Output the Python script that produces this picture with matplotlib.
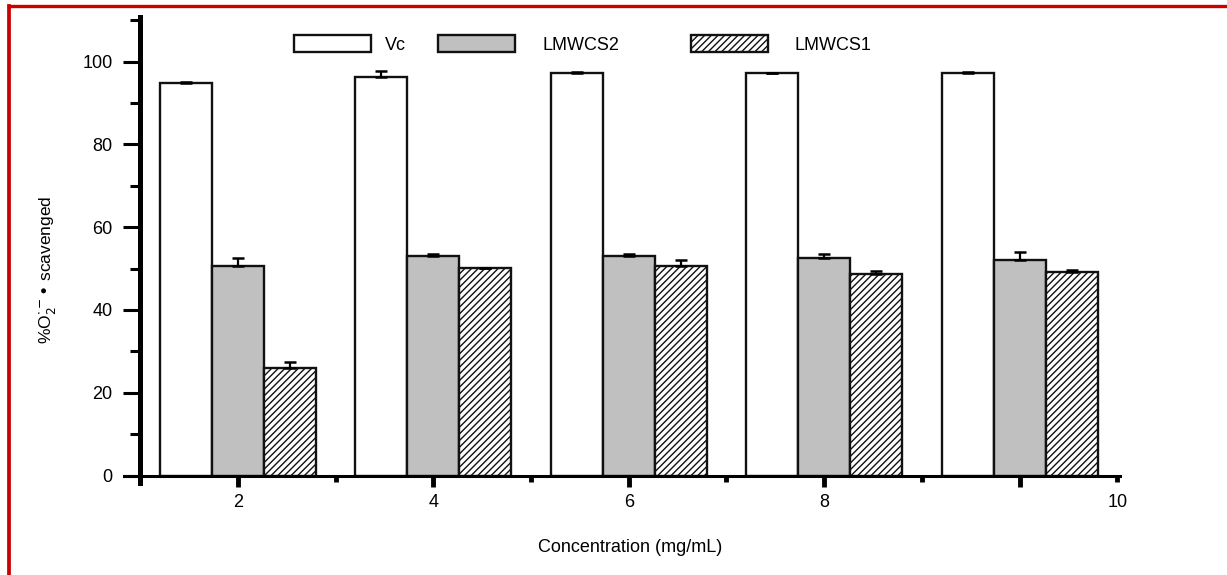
import numpy as np
import matplotlib
matplotlib.use("Agg")
import matplotlib.pyplot as plt
from matplotlib.lines import Line2D
from matplotlib.ticker import FixedLocator, FixedFormatter

plt.rcParams['font.family'] = ['Liberation Sans', 'DejaVu Sans']
plt.rcParams['hatch.linewidth'] = 1.0

# ---- data ----
concentrations = ['2', '4', '6', '8', '10']
series_names = ['Vc', 'LMWCS2', 'LMWCS1']
vc = [94.8, 96.2, 97.2, 97.2, 97.2]
vc_err = [0.3, 1.45, 0.4, 0.0, 0.4]
lmwcs2 = [50.6, 53.1, 53.1, 52.5, 52.1]
lmwcs2_err = [1.9, 0.35, 0.35, 1.0, 1.9]
lmwcs1 = [26.0, 50.2, 50.6, 48.7, 49.2]
lmwcs1_err = [1.45, 0.0, 1.45, 0.8, 0.4]
y_major = [0, 20, 40, 60, 80, 100]
y_minor = [10, 30, 50, 70, 90, 110]

W, H = 1227, 575
fig = plt.figure(figsize=(W / 100, H / 100), dpi=100)
ax = fig.add_axes([124 / W, (H - 483) / H, (1120 - 124) / W, (483 - 17) / H])

x = np.arange(len(concentrations))
bw = 0.266
styles = [
    dict(facecolor='white', hatch=None),
    dict(facecolor='#c0c0c0', hatch=None),
    dict(facecolor='white', hatch='/////'),
]
values = [vc, lmwcs2, lmwcs1]
errors = [vc_err, lmwcs2_err, lmwcs1_err]
offsets = [-bw, 0, bw]
handles = []
for vals, errs, off, st, name in zip(values, errors, offsets, styles, series_names):
    bars = ax.bar(x + off, vals, width=bw, facecolor=st['facecolor'], hatch=st['hatch'],
                  edgecolor='#111111', linewidth=1.7, label=name, zorder=2)
    handles.append(bars)
    ax.errorbar(x + off, vals, yerr=[np.zeros(len(errs)), errs], fmt='none', ecolor='black',
                elinewidth=1.6, capsize=4.5, capthick=1.8, zorder=3)

ax.set_xlim(-0.583, 4.514)
ax.set_ylim(-1.81, 110.8)

for s in ['top', 'right']:
    ax.spines[s].set_visible(False)
ax.spines['left'].set_position(('data', -0.5))
ax.spines['bottom'].set_position(('data', 0))
ax.spines['left'].set_linewidth(3.6)
ax.spines['bottom'].set_linewidth(2.2)

# y ticks
ax.yaxis.set_major_locator(FixedLocator(y_major))
ax.yaxis.set_minor_locator(FixedLocator(y_minor))
ax.yaxis.set_major_formatter(FixedFormatter([str(v) for v in y_major]))
ax.tick_params(axis='y', which='major', direction='out', length=12, width=2.2, labelsize=13, pad=8)
ax.tick_params(axis='y', which='minor', direction='out', length=7, width=2.2)

# x ticks (quirky original axis: 10 at the axis end)
ax.xaxis.set_major_locator(FixedLocator(list(x)))
ax.xaxis.set_major_formatter(FixedFormatter(concentrations[:-1] + ['']))
ax.xaxis.set_minor_locator(FixedLocator(list(x + 0.5)))
ax.xaxis.set_minor_formatter(FixedFormatter([''] * (len(x) - 1) + [concentrations[-1]]))
ax.tick_params(axis='x', which='major', direction='out', length=8, width=3.5, labelsize=13, pad=5)
ax.tick_params(axis='x', which='minor', direction='out', length=4, width=3.5, labelsize=13, pad=9)

# labels
fig.text(47 / W, 1 - 270 / H, r'%O$_2^{\cdot-}$• scavenged', rotation=90,
         ha='center', va='center', fontsize=12.5)
fig.text(630 / W, 1 - 548 / H, 'Concentration (mg/mL)', ha='center', va='center', fontsize=13)

# legend (three entries at their own positions)
fs_px = 13 * 100 / 72
leg_x = [294, 438, 691]
leg_pad = [14, 27, 26]
legends = []
for h, name, lx, pd in zip(handles, series_names, leg_x, leg_pad):
    leg = ax.legend([h], [name], loc='center left', bbox_to_anchor=(lx / W, 1 - 44.5 / H),
                    bbox_transform=fig.transFigure, frameon=False, borderpad=0, borderaxespad=0,
                    handlelength=77 / fs_px, handleheight=19 / fs_px, handletextpad=pd / fs_px,
                    fontsize=13)
    legends.append(leg)
for leg in legends[:-1]:
    ax.add_artist(leg)

# red frame (top and left)
red = '#cc0000'
fig.add_artist(Line2D([9.2 / W, 9.2 / W], [0, 1 - 5.7 / H], transform=fig.transFigure,
                      color=red, linewidth=2.7, solid_capstyle='projecting'))
fig.add_artist(Line2D([9.2 / W, 1], [1 - 5.7 / H, 1 - 5.7 / H], transform=fig.transFigure,
                      color=red, linewidth=2.4, solid_capstyle='projecting'))

fig.savefig('out.png', dpi=100, facecolor='white')
